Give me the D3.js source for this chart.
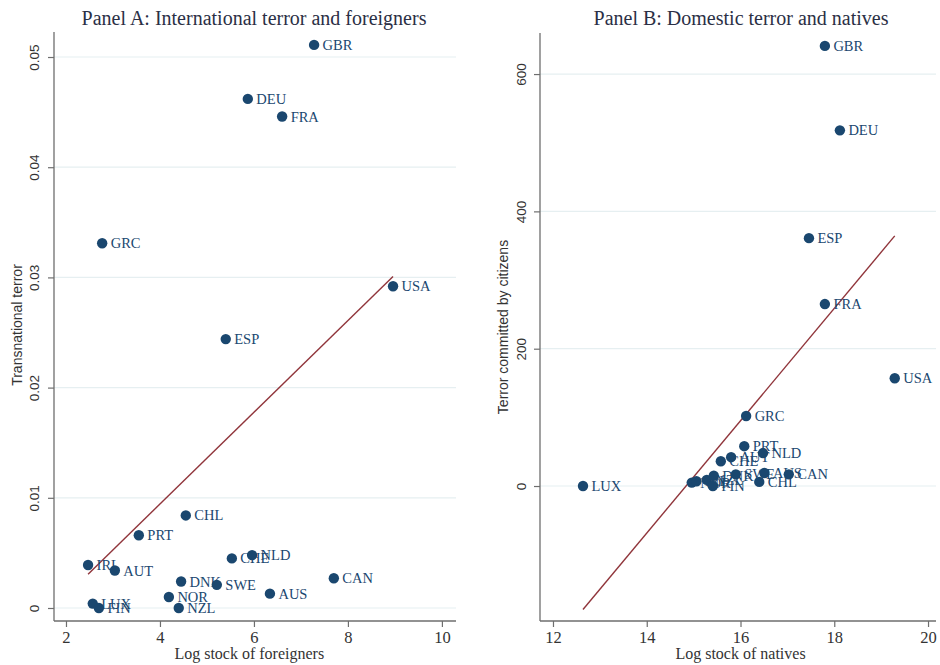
<!DOCTYPE html>
<html>
<head>
<meta charset="utf-8">
<script src="https://cdn.jsdelivr.net/npm/d3@7"></script>
<style>
  html, body { margin: 0; padding: 0; background: #ffffff; }
  svg { display: block; }
</style>
</head>
<body>
<svg id="chart" width="940" height="665"></svg>
<script>
// Panel A: international terror vs. log stock of foreigners
const countriesA = ["GBR","DEU","FRA","GRC","USA","ESP","CHL","PRT","NLD","CHE","IRL","AUT","CAN","DNK","SWE","AUS","NOR","NZL","LUX","FIN"];
const foreignersA = [7.28,5.87,6.60,2.77,8.96,5.40,4.55,3.55,5.96,5.53,2.47,3.04,7.70,4.45,5.21,6.34,4.19,4.40,2.57,2.70];
const transTerrorA = [0.0511,0.0462,0.0446,0.0331,0.0292,0.0244,0.0084,0.0066,0.0048,0.0045,0.0039,0.0034,0.0027,0.0024,0.0021,0.0013,0.0010,0.0000,0.0004,0.0000];

// Panel B: terror committed by citizens vs. log stock of natives
const countriesB = ["GBR","DEU","ESP","FRA","USA","GRC","LUX","PRT","NLD","AUT","CHE","NOR","IRL","NZL","DNK","FIN","SWE","CHL","AUS","CAN"];
const nativesB = [17.80,18.12,17.46,17.80,19.29,16.12,12.64,16.08,16.48,15.80,15.58,14.96,15.06,15.28,15.43,15.41,15.90,16.40,16.51,17.03];
const citizenTerrorB = [641,518,361,265,157,102,0,58,48,42,36,5,7,9,15,0,17,6,19,17];

const ticksXA = [2,4,6,8,10];
const ticksYA = [0,0.01,0.02,0.03,0.04,0.05];
const ticksXB = [12,14,16,18,20];
const ticksYB = [0,200,400,600];

const NAVY = "#1a476f", MAROON = "#90353b", GRID = "#e6eff1", AXIS = "#6e6e6e";
const SERIF = "'Liberation Serif', 'DejaVu Serif', serif";
const SANS = "'Liberation Sans', Arial, sans-serif";

const svg = d3.select("#chart");

// ordinary least squares fit, evaluated over the data's x range
function olsLine(xs, ys) {
  const mx = d3.mean(xs), my = d3.mean(ys);
  let sxy = 0, sxx = 0;
  xs.forEach((x, i) => { sxy += (x - mx) * (ys[i] - my); sxx += (x - mx) * (x - mx); });
  const b = sxy / sxx, a = my - b * mx;
  const [x0, x1] = d3.extent(xs);
  return [[x0, a + b * x0], [x1, a + b * x1]];
}

function panel(cfg) {
  const g = svg.append("g");
  const x = d3.scaleLinear().domain(cfg.xDomain).range([cfg.left, cfg.right]);
  const y = d3.scaleLinear().domain(cfg.yDomain).range([cfg.bottom, cfg.top]);

  // horizontal gridlines
  g.append("g").selectAll("line").data(cfg.yTicks).join("line")
    .attr("x1", cfg.left).attr("x2", cfg.right)
    .attr("y1", d => y(d)).attr("y2", d => y(d))
    .attr("stroke", GRID).attr("stroke-width", 1.2);

  // x axis
  const xAxis = g.append("g").attr("transform", `translate(0,${cfg.bottom})`)
    .call(d3.axisBottom(x).tickValues(cfg.xTicks).tickSize(6).tickPadding(4).tickFormat(d3.format("d")));
  xAxis.select(".domain").attr("stroke", AXIS).attr("stroke-width", 1.3)
    .attr("d", `M${cfg.left},0H${cfg.right}`);
  xAxis.selectAll(".tick line").attr("stroke", AXIS).attr("stroke-width", 1.2);
  xAxis.selectAll(".tick text").attr("font-family", SERIF).attr("font-size", 16.5).attr("fill", "#333");

  // y axis, labels rotated to read bottom-up
  const yAxis = g.append("g").attr("transform", `translate(${cfg.left},0)`)
    .call(d3.axisLeft(y).tickValues(cfg.yTicks).tickSize(6).tickFormat(cfg.yFormat));
  yAxis.select(".domain").attr("stroke", AXIS).attr("stroke-width", 1.3)
    .attr("d", `M0,${cfg.top}V${cfg.bottom}`);
  yAxis.selectAll(".tick line").attr("stroke", AXIS).attr("stroke-width", 1.2);
  yAxis.selectAll(".tick text")
    .attr("x", null).attr("dy", null)
    .attr("transform", `translate(${-cfg.yLabelOffset},0) rotate(-90)`)
    .attr("text-anchor", "middle").attr("dominant-baseline", "central")
    .attr("font-family", SANS).attr("font-size", 13.5).attr("fill", "#333");

  // titles
  g.append("text").attr("x", (cfg.left + cfg.right) / 2 + cfg.titleShift).attr("y", 25)
    .attr("text-anchor", "middle").attr("font-family", SERIF).attr("font-size", 20)
    .attr("fill", "#2b2f45").text(cfg.title);
  g.append("text").attr("x", x(cfg.xTitleAt)).attr("y", 659)
    .attr("text-anchor", "middle").attr("font-family", SERIF).attr("font-size", 16)
    .attr("fill", "#333").text(cfg.xTitle);
  g.append("text")
    .attr("transform", `translate(${cfg.yTitleX},${cfg.yTitleY}) rotate(-90)`)
    .attr("text-anchor", "middle").attr("dominant-baseline", "central")
    .attr("font-family", SANS).attr("font-size", 14).attr("fill", "#333").text(cfg.yTitle);

  const pts = cfg.xs.map((v, i) => ({ name: cfg.names[i], x: v, y: cfg.ys[i] }));

  // fitted values
  const fit = olsLine(cfg.xs, cfg.ys);
  g.append("path")
    .attr("d", d3.line().x(d => x(d[0])).y(d => y(d[1]))(fit))
    .attr("fill", "none").attr("stroke", MAROON).attr("stroke-width", 1.4);

  // markers
  g.append("g").selectAll("circle").data(pts).join("circle")
    .attr("cx", d => x(d.x)).attr("cy", d => y(d.y)).attr("r", 5.2)
    .attr("fill", NAVY);

  // marker labels
  g.append("g").selectAll("text").data(pts).join("text")
    .attr("x", d => x(d.x) + 8.5).attr("y", d => y(d.y))
    .attr("dominant-baseline", "central")
    .attr("font-family", SERIF).attr("font-size", 14.5).attr("fill", NAVY)
    .text(d => d.name);
}

panel({
  names: countriesA, xs: foreignersA, ys: transTerrorA,
  left: 54, right: 456, top: 32, bottom: 621,
  xDomain: [1.745, 10.30], yDomain: [-0.00118, 0.05227],
  xTicks: ticksXA, yTicks: ticksYA, yFormat: d3.format(""),
  yLabelOffset: 20, title: "Panel A: International terror and foreigners", titleShift: -1,
  xTitle: "Log stock of foreigners", xTitleAt: 5.9,
  yTitle: "Transnational terror", yTitleX: 17, yTitleY: 325
});

panel({
  names: countriesB, xs: nativesB, ys: citizenTerrorB,
  left: 540, right: 936, top: 33, bottom: 621,
  xDomain: [11.723, 20.17], yDomain: [-196.6, 659.8],
  xTicks: ticksXB, yTicks: ticksYB, yFormat: d3.format("d"),
  yLabelOffset: 19, title: "Panel B: Domestic terror and natives", titleShift: 3,
  xTitle: "Log stock of natives", xTitleAt: 16.0,
  yTitle: "Terror committed by citizens", yTitleX: 503, yTitleY: 327
});
</script>
</body>
</html>
